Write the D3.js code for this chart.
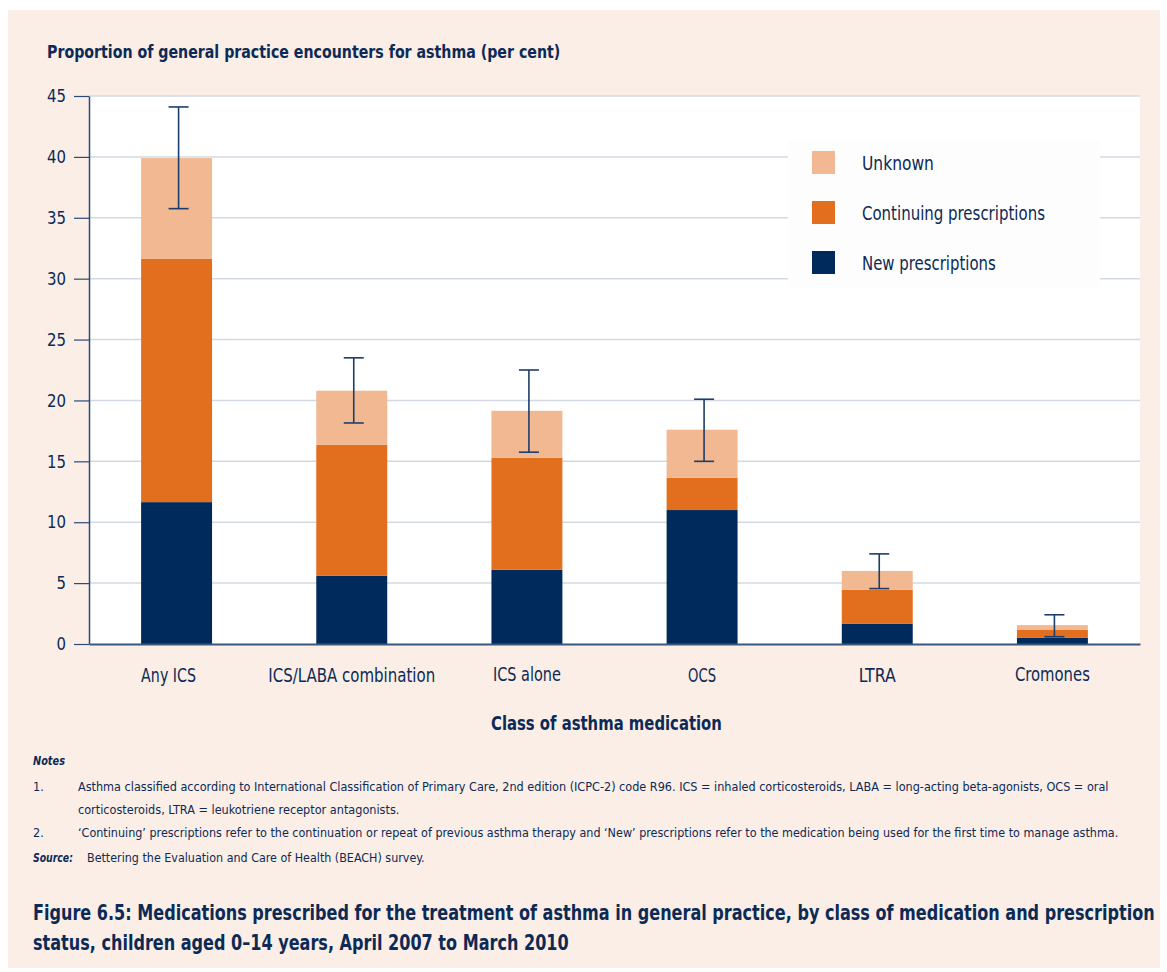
<!DOCTYPE html>
<html>
<head>
<meta charset="utf-8">
<style>
  body { margin: 0; background: #ffffff; }
  svg text { font-family: "DejaVu Sans Condensed", "DejaVu Sans", sans-serif; fill: #0c2a55; }
</style>
</head>
<body>
<svg id="chart" width="1167" height="972"></svg>
<script src="https://cdn.jsdelivr.net/npm/d3@7/dist/d3.min.js"></script>
<script>

var categories = ["Any ICS", "ICS/LABA combination", "ICS alone", "OCS", "LTRA", "Cromones"]

// stacked values (per cent), bottom to top
var newRx = [11.65, 5.6, 6.1, 11.0, 1.65, 0.5]
var continuingRx = [20.0, 10.75, 9.2, 2.65, 2.8, 0.65]
var unknownRx = [8.25, 4.45, 3.85, 3.95, 1.55, 0.4]

// 95% confidence interval for the total
var ciLow = [35.75, 18.15, 15.75, 15.0, 4.55, 0.6]
var ciHigh = [44.1, 23.5, 22.5, 20.1, 7.4, 2.4]

var yTicks = [0, 5, 10, 15, 20, 25, 30, 35, 40, 45]

var seriesNames = ["New prescriptions", "Continuing prescriptions", "Unknown"]
var seriesColors = ["#002a5c", "#e26f1e", "#f1b891"]

var notes = [
  ["1.", "Asthma classified according to International Classification of Primary Care, 2nd edition (ICPC-2) code R96. ICS = inhaled corticosteroids, LABA = long-acting beta-agonists, OCS = oral"],
  ["", "corticosteroids, LTRA = leukotriene receptor antagonists."],
  ["2.", "\u2018Continuing\u2019 prescriptions refer to the continuation or repeat of previous asthma therapy and \u2018New\u2019 prescriptions refer to the medication being used for the first time to manage asthma."]
]

// the reference uses a condensed face; squeeze each text horizontally to its measured width
function fit(sel, w) {
  sel.each(function() {
    var t = d3.select(this)
    var x0 = +t.attr("x") || 0, y0 = +t.attr("y") || 0
    var w0 = this.getComputedTextLength()
    t.attr("x", 0).attr("y", 0)
      .attr("transform", "translate(" + x0 + "," + y0 + ") scale(" + (w / w0) + ",1)")
  })
}

var svg = d3.select("#chart")
var ink = "#0c2a55"

// peach panel
svg.append("rect")
  .attr("x", 8).attr("y", 10)
  .attr("width", 1152).attr("height", 958)
  .attr("fill", "#faeee6")

var plot = {left: 89, right: 1140, top: 96, bottom: 644}

svg.append("rect")
  .attr("x", plot.left).attr("y", plot.top)
  .attr("width", plot.right - plot.left).attr("height", plot.bottom - plot.top)
  .attr("fill", "#ffffff")

var x = d3.scaleBand()
  .domain(categories)
  .range([plot.left, plot.right])
  .paddingInner(0.595)
  .paddingOuter(0.2975)

var y = d3.scaleLinear()
  .domain([0, 45])
  .range([plot.bottom, plot.top])

// gridlines
svg.append("g")
  .selectAll("line")
  .data(yTicks.filter(d => d > 0))
  .enter().append("line")
  .attr("x1", plot.left).attr("x2", plot.right)
  .attr("y1", d => y(d)).attr("y2", d => y(d))
  .attr("stroke", "#d3d9e2")
  .attr("stroke-width", 1.5)

// legend box sits over the gridlines
var legend = svg.append("g")
legend.append("rect")
  .attr("x", 788).attr("y", 140)
  .attr("width", 312).attr("height", 148)
  .attr("fill", "#fdfdfd")

var legendItems = [2, 1, 0]
var legendWidths = [72, 183, 134]
legendItems.forEach(function(s, i) {
  legend.append("rect")
    .attr("x", 812).attr("y", 151 + i * 50)
    .attr("width", 23).attr("height", 23)
    .attr("fill", seriesColors[s])
  legend.append("text")
    .attr("x", 862).attr("y", 170 + i * 50)
    .attr("font-size", 19)
    .text(seriesNames[s])
    .call(fit, legendWidths[i])
})

// stacked bars
var rows = categories.map(function(c, i) {
  return {cat: c, "New prescriptions": newRx[i], "Continuing prescriptions": continuingRx[i], "Unknown": unknownRx[i]}
})
var stack = d3.stack().keys(seriesNames)(rows)

svg.append("g")
  .selectAll("g")
  .data(stack)
  .enter().append("g")
  .attr("fill", (d, i) => seriesColors[i])
  .selectAll("rect")
  .data(d => d)
  .enter().append("rect")
  .attr("x", d => x(d.data.cat))
  .attr("width", x.bandwidth())
  .attr("y", d => y(d[1]))
  .attr("height", d => y(d[0]) - y(d[1]))

// error bars
var err = svg.append("g").attr("stroke", "#1d3d6b").attr("stroke-width", 1.6)
categories.forEach(function(c, i) {
  var cx = x(c) + x.bandwidth() / 2 + 2
  err.append("line").attr("x1", cx).attr("x2", cx).attr("y1", y(ciHigh[i])).attr("y2", y(ciLow[i]))
  err.append("line").attr("x1", cx - 10).attr("x2", cx + 10).attr("y1", y(ciHigh[i])).attr("y2", y(ciHigh[i]))
  err.append("line").attr("x1", cx - 10).attr("x2", cx + 10).attr("y1", y(ciLow[i])).attr("y2", y(ciLow[i]))
})

// y axis
var yAxis = svg.append("g")
  .attr("transform", "translate(" + plot.left + ",0)")
  .call(d3.axisLeft(y).tickValues(yTicks).tickSize(15).tickPadding(8).tickSizeOuter(0))
yAxis.attr("font-family", null)
yAxis.select(".domain").attr("stroke", "#2b4a75").attr("stroke-width", 1.5)
yAxis.selectAll(".tick line").attr("stroke", "#2b4a75").attr("stroke-width", 1.2)
yAxis.selectAll(".tick text")
  .attr("font-size", 18).attr("fill", ink)
  .each(function(d) { d3.select(this).call(fit, d >= 10 ? 19 : 9.5) })

// x axis
var xLabelWidths = [55, 167, 68, 28, 37, 75]
var xLabelShift = [-8, 0, 0, 0, 0, 0]
var xAxis = svg.append("g")
  .attr("transform", "translate(0," + plot.bottom + ")")
  .call(d3.axisBottom(x).tickSize(0).tickPadding(24).tickSizeOuter(0))
xAxis.attr("font-family", null)
xAxis.select(".domain").attr("stroke", "#3a5780").attr("stroke-width", 2)
xAxis.selectAll(".tick text")
  .attr("font-size", 19).attr("fill", ink)
  .attr("x", (d, i) => xLabelShift[i])
  .each(function(d, i) { d3.select(this).call(fit, xLabelWidths[i]) })

// titles
svg.append("text")
  .attr("x", 47).attr("y", 58)
  .attr("font-size", 18).attr("font-weight", "bold")
  .text("Proportion of general practice encounters for asthma (per cent)")
  .call(fit, 514)

svg.append("text")
  .attr("x", 491).attr("y", 730)
  .attr("font-size", 20).attr("font-weight", "bold")
  .text("Class of asthma medication")
  .call(fit, 231)

// notes
var foot = svg.append("g")
foot.append("text")
  .attr("x", 33).attr("y", 765)
  .attr("font-size", 12.5).attr("font-weight", "bold").attr("font-style", "italic")
  .text("Notes")
  .call(fit, 32)

var noteWidths = [1032, 322, 1041]
notes.forEach(function(n, i) {
  var yy = 791 + i * 23
  if (n[0]) foot.append("text").attr("x", 33).attr("y", yy).attr("font-size", 12.5).text(n[0])
  foot.append("text").attr("x", 78).attr("y", yy).attr("font-size", 12.5).text(n[1])
    .call(fit, noteWidths[i])
})

foot.append("text")
  .attr("x", 33).attr("y", 862)
  .attr("font-size", 12.5).attr("font-weight", "bold").attr("font-style", "italic")
  .text("Source:")
  .call(fit, 40)
foot.append("text")
  .attr("x", 87).attr("y", 862)
  .attr("font-size", 12.5)
  .text("Bettering the Evaluation and Care of Health (BEACH) survey.")
  .call(fit, 338)

// figure caption
foot.append("text")
  .attr("x", 33).attr("y", 920)
  .attr("font-size", 21).attr("font-weight", "bold")
  .text("Figure 6.5: Medications prescribed for the treatment of asthma in general practice, by class of medication and prescription")
  .call(fit, 1122)
foot.append("text")
  .attr("x", 33).attr("y", 950)
  .attr("font-size", 21).attr("font-weight", "bold")
  .text("status, children aged 0\u201314 years, April 2007 to March 2010")
  .call(fit, 536)

</script>
</body>
</html>
